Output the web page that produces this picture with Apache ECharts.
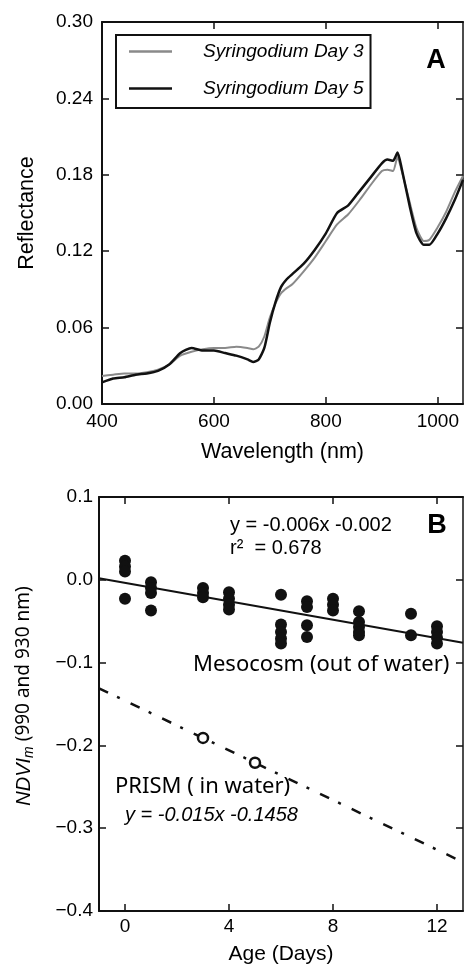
<!DOCTYPE html>
<html>
<head>
<meta charset="utf-8">
<script src="https://cdn.jsdelivr.net/npm/echarts@6/dist/echarts.min.js"></script>
<style>
  html, body { margin: 0; padding: 0; background: #fff; }
  #chart { width: 464px; height: 967px; }
</style>
</head>
<body>
<div id="chart"></div>
<script>
// panel A: reflectance spectra
const wavelengths = [400, 420, 440, 460, 480, 500, 520, 540, 560, 580, 600, 620, 640, 660, 670, 680, 690, 700, 710, 720, 730, 740, 760, 780, 800, 820, 840, 860, 880, 900, 910, 920, 928, 935, 950, 962, 975, 985, 1000, 1015, 1030, 1045];
const day3 = [0.022, 0.023, 0.024, 0.024, 0.025, 0.027, 0.031, 0.038, 0.041, 0.043, 0.044, 0.044, 0.045, 0.044, 0.043, 0.045, 0.053, 0.068, 0.079, 0.087, 0.091, 0.094, 0.104, 0.115, 0.128, 0.141, 0.149, 0.160, 0.172, 0.183, 0.184, 0.183, 0.194, 0.184, 0.158, 0.138, 0.128, 0.129, 0.139, 0.151, 0.166, 0.179];
const day5 = [0.017, 0.020, 0.021, 0.023, 0.024, 0.026, 0.031, 0.040, 0.044, 0.042, 0.042, 0.040, 0.038, 0.035, 0.033, 0.035, 0.044, 0.064, 0.080, 0.092, 0.098, 0.102, 0.110, 0.121, 0.134, 0.150, 0.156, 0.167, 0.178, 0.189, 0.192, 0.191, 0.1975, 0.186, 0.155, 0.134, 0.125, 0.125, 0.134, 0.146, 0.160, 0.176];

// panel B: NDVIm vs age
const mesoAge = [0, 0, 0, 0, 1, 1, 1, 1, 3, 3, 3, 4, 4, 4, 4, 6, 6, 6, 6, 6, 7, 7, 7, 7, 8, 8, 8, 9, 9, 9, 9, 9, 11, 11, 12, 12, 12, 12];
const mesoNdvi = [0.023, 0.016, 0.010, -0.023, -0.003, -0.010, -0.016, -0.037, -0.010, -0.016, -0.021, -0.015, -0.023, -0.030, -0.036, -0.018, -0.054, -0.063, -0.071, -0.077, -0.026, -0.033, -0.055, -0.069, -0.023, -0.030, -0.037, -0.038, -0.051, -0.057, -0.063, -0.067, -0.041, -0.067, -0.056, -0.063, -0.070, -0.077];
const prismAge = [3, 5];
const prismNdvi = [-0.191, -0.221];
const fitAge = [-1, 13];
const mesoFit = [0.002, -0.076];
const prismFit = [-0.131, -0.341];

const ticksA = [400, 600, 800, 1000];
const ticksB = [0, 4, 8, 12];

const pairs = (xs, ys) => xs.map((x, i) => [x, ys[i]]);
const minus = s => s.replace('-', '\u2212');

const FONT = 'Liberation Sans';
const black = '#111';

function frameAxis(extra) {
  return Object.assign({
    axisLine: { show: true, onZero: false, lineStyle: { color: black, width: 2 } },
    axisTick: { show: true, inside: true, length: 7, lineStyle: { color: black, width: 1.5 } },
    axisLabel: { show: false },
    splitLine: { show: false }
  }, extra);
}

const labelStyle = { color: '#000', fontFamily: FONT, fontSize: 19 };

const chart = echarts.init(document.getElementById('chart'), null, { renderer: 'canvas' });

chart.setOption({
  animation: false,
  backgroundColor: '#fff',
  textStyle: { fontFamily: FONT },
  grid: [
    { left: 102, top: 22, width: 361, height: 382, outerBoundsMode: 'none' },
    { left: 99, top: 497, width: 364, height: 414, outerBoundsMode: 'none' }
  ],
  xAxis: [
    frameAxis({
      type: 'value', gridIndex: 0, min: 400, max: 1045, position: 'bottom',
      axisTick: { show: true, inside: true, length: 7, customValues: ticksA, lineStyle: { color: black, width: 1.5 } },
      axisLabel: Object.assign({ show: true, margin: 8, customValues: ticksA, formatter: v => String(v) }, labelStyle),
      name: 'Wavelength (nm)', nameLocation: 'middle', nameGap: 37,
      nameTextStyle: { color: '#000', fontFamily: FONT, fontSize: 21.5 }
    }),
    frameAxis({
      type: 'value', gridIndex: 0, min: 400, max: 1045, position: 'top',
      axisTick: { show: true, inside: true, length: 7, customValues: ticksA, lineStyle: { color: black, width: 1.5 } }
    }),
    frameAxis({
      type: 'value', gridIndex: 1, min: -1, max: 13, position: 'bottom',
      axisTick: { show: true, inside: true, length: 7, customValues: ticksB, lineStyle: { color: black, width: 1.5 } },
      axisLabel: Object.assign({ show: true, margin: 6, customValues: ticksB, formatter: v => String(v) }, labelStyle),
      name: 'Age (Days)', nameLocation: 'middle', nameGap: 33,
      nameTextStyle: { color: '#000', fontFamily: FONT, fontSize: 21 }
    }),
    frameAxis({
      type: 'value', gridIndex: 1, min: -1, max: 13, position: 'top',
      axisTick: { show: true, inside: true, length: 7, customValues: ticksB, lineStyle: { color: black, width: 1.5 } }
    })
  ],
  yAxis: [
    frameAxis({
      type: 'value', gridIndex: 0, min: 0, max: 0.3, interval: 0.06, position: 'left',
      axisLabel: Object.assign({ show: true, margin: 9, formatter: v => v.toFixed(2) }, labelStyle),
      name: 'Reflectance', nameLocation: 'middle', nameGap: 64,
      nameTextStyle: { color: '#000', fontFamily: FONT, fontSize: 21.5 }
    }),
    frameAxis({
      type: 'value', gridIndex: 0, min: 0, max: 0.3, interval: 0.06, position: 'right',
      axisLine: { show: true, onZero: false, lineStyle: { color: black, width: 1.5 } }
    }),
    frameAxis({
      type: 'value', gridIndex: 1, min: -0.4, max: 0.1, interval: 0.1, position: 'left',
      axisLabel: Object.assign({ show: true, margin: 6, formatter: v => minus(v.toFixed(1)) }, labelStyle),
      name: '{i|NDVI}{s|m} (990 and 930 nm)', nameLocation: 'middle', nameGap: 63,
      nameTextStyle: {
        color: '#000', fontFamily: 'Noto Sans', fontSize: 19, padding: [0, 0, 0, 16],
        rich: {
          i: { fontFamily: FONT, fontStyle: 'italic', fontSize: 20, color: '#000' },
          s: { fontFamily: FONT, fontStyle: 'italic', fontSize: 14, color: '#000', padding: [10, 0, 0, 0] }
        }
      }
    }),
    frameAxis({
      type: 'value', gridIndex: 1, min: -0.4, max: 0.1, interval: 0.1, position: 'right',
      axisLine: { show: true, onZero: false, lineStyle: { color: black, width: 1.5 } }
    })
  ],
  legend: {
    left: 116, top: 35, orient: 'vertical',
    padding: [7, 7, 10, 13],
    icon: 'rect', itemWidth: 43, itemHeight: 2.5, itemGap: 18,
    borderColor: black, borderWidth: 2, backgroundColor: '#fff',
    textStyle: { fontFamily: FONT, fontStyle: 'italic', fontSize: 19, color: '#000', padding: [0, 0, 0, 26] },
    data: ['Syringodium Day 3', 'Syringodium Day 5']
  },
  series: [
    {
      name: 'Syringodium Day 3', type: 'line', xAxisIndex: 0, yAxisIndex: 0,
      data: pairs(wavelengths, day3), symbol: 'none', smooth: 0.2,
      lineStyle: { color: '#8a8a8a', width: 2 }, itemStyle: { color: '#8a8a8a' }, z: 3
    },
    {
      name: 'Syringodium Day 5', type: 'line', xAxisIndex: 0, yAxisIndex: 0,
      data: pairs(wavelengths, day5), symbol: 'none', smooth: 0.2,
      lineStyle: { color: black, width: 2.5 }, itemStyle: { color: black }, z: 4
    },
    {
      name: 'Mesocosm fit', type: 'line', xAxisIndex: 2, yAxisIndex: 2,
      data: pairs(fitAge, mesoFit), symbol: 'none',
      lineStyle: { color: black, width: 2 }
    },
    {
      name: 'PRISM fit', type: 'line', xAxisIndex: 2, yAxisIndex: 2,
      data: pairs(fitAge, prismFit), symbol: 'none',
      lineStyle: { color: black, width: 2.5, type: [10, 10, 3, 12] }
    },
    {
      name: 'Mesocosm', type: 'scatter', xAxisIndex: 2, yAxisIndex: 2,
      data: pairs(mesoAge, mesoNdvi), symbol: 'circle', symbolSize: 12,
      itemStyle: { color: black, opacity: 1 }, z: 5
    },
    {
      name: 'PRISM', type: 'scatter', xAxisIndex: 2, yAxisIndex: 2,
      data: pairs(prismAge, prismNdvi), symbol: 'circle', symbolSize: 10,
      itemStyle: { color: '#fff', borderColor: black, borderWidth: 2.5, opacity: 1 }, z: 5
    }
  ],
  graphic: [
    { type: 'text', x: 436, y: 61, style: { text: 'A', font: 'bold 27px "Liberation Sans"', fill: '#000', textAlign: 'center', textVerticalAlign: 'middle' } },
    { type: 'text', x: 437, y: 526, style: { text: 'B', font: 'bold 27px "Liberation Sans"', fill: '#000', textAlign: 'center', textVerticalAlign: 'middle' } },
    { type: 'text', x: 230, y: 525, style: { text: 'y = -0.006x -0.002', font: '20px "Liberation Sans"', fill: '#000', textAlign: 'left', textVerticalAlign: 'middle' } },
    { type: 'text', x: 230, y: 548, style: { text: 'r\u00b2  = 0.678', font: '20px "Liberation Sans"', fill: '#000', textAlign: 'left', textVerticalAlign: 'middle' } },
    { type: 'text', x: 193, y: 665, style: { text: 'Mesocosm (out of water)', font: '22px "Noto Sans"', fill: '#000', textAlign: 'left', textVerticalAlign: 'middle' } },
    { type: 'text', x: 115, y: 787, style: { text: 'PRISM ( in water)', font: '22px "Noto Sans"', fill: '#000', textAlign: 'left', textVerticalAlign: 'middle' } },
    { type: 'text', x: 125, y: 815, style: { text: 'y = -0.015x -0.1458', font: 'italic 20px "Liberation Sans"', fill: '#000', textAlign: 'left', textVerticalAlign: 'middle' } }
  ]
});
</script>
</body>
</html>
